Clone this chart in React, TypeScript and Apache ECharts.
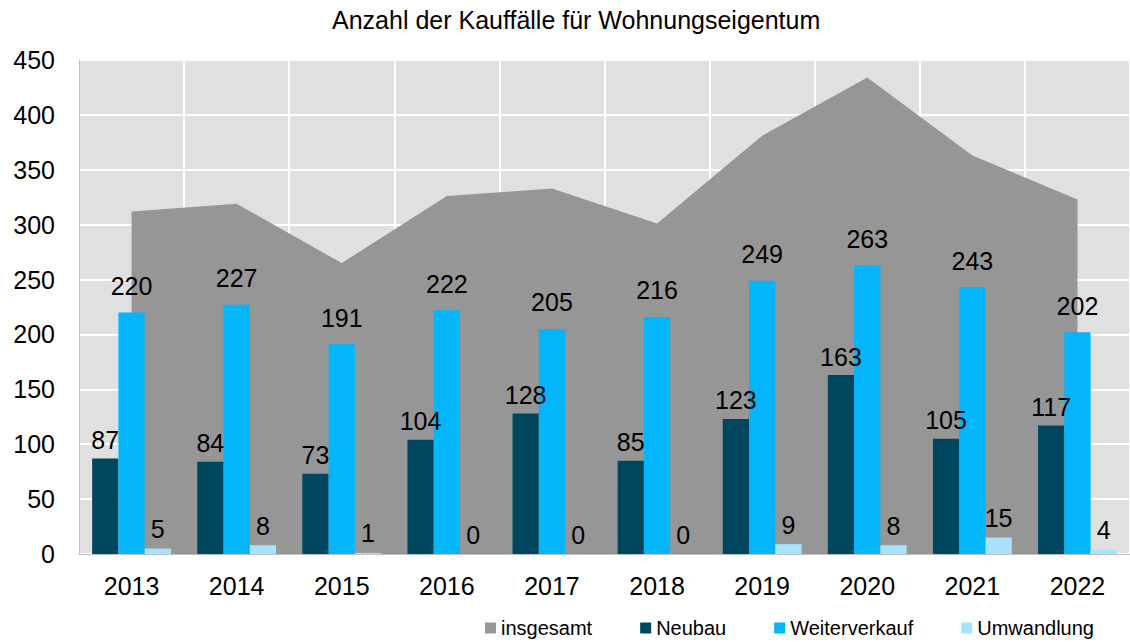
import React, { useEffect, useRef } from "react";
import * as echarts from "echarts";

const years = ["2013", "2014", "2015", "2016", "2017", "2018", "2019", "2020", "2021", "2022"];
const insgesamt = [312, 319, 265, 326, 333, 301, 381, 434, 363, 323];
const neubau = [87, 84, 73, 104, 128, 85, 123, 163, 105, 117];
const weiterverkauf = [220, 227, 191, 222, 205, 216, 249, 263, 243, 202];
const umwandlung = [5, 8, 1, 0, 0, 0, 9, 8, 15, 4];

const FONT = "'Liberation Sans', Arial, sans-serif";

export default function App() {
  const ref = useRef<HTMLDivElement>(null);
  useEffect(() => {
    if (!ref.current) return;
    const chart = echarts.init(ref.current, null, { renderer: "svg" });
    const barLabel = (distance: number) => ({
      show: true,
      position: "top" as const,
      distance,
      fontSize: 25,
      color: "#000",
      fontFamily: FONT,
    });
    chart.setOption({
      animation: false,
      textStyle: { fontFamily: FONT },
      title: {
        text: "Anzahl der Kauffälle für Wohnungseigentum",
        left: 332,
        top: 7,
        padding: 0,
        textStyle: { fontSize: 25, fontWeight: "normal", color: "#000", fontFamily: FONT },
      },
      legend: {
        left: 485,
        top: 618,
        padding: 0,
        icon: "rect",
        itemWidth: 11,
        itemHeight: 11,
        itemGap: 48,
        textStyle: { fontSize: 20, color: "#000", fontFamily: FONT },
        data: ["insgesamt", "Neubau", "Weiterverkauf", "Umwandlung"],
      },
      grid: {
        left: 79,
        top: 60,
        width: 1053,
        height: 494,
        show: true,
        backgroundColor: "#e0e0e0",
        borderColor: "#c0c0c0",
        borderWidth: 1,
      },
      xAxis: {
        type: "category",
        data: years,
        boundaryGap: true,
        axisLine: { show: true, lineStyle: { color: "#c0c0c0", width: 1 } },
        axisTick: { show: false },
        splitLine: { show: true, lineStyle: { color: "#ffffff", width: 2 } },
        axisLabel: { fontSize: 25, color: "#000", margin: 19, fontFamily: FONT },
      },
      yAxis: {
        type: "value",
        min: 0,
        max: 450,
        interval: 50,
        axisLine: { show: true, lineStyle: { color: "#c0c0c0", width: 1 } },
        axisTick: { show: false },
        splitLine: { show: true, lineStyle: { color: "#ffffff", width: 2 } },
        axisLabel: { fontSize: 25, color: "#000", margin: 24, fontFamily: FONT },
      },
      series: [
        {
          name: "insgesamt",
          type: "line",
          data: insgesamt,
          symbol: "none",
          lineStyle: { width: 0, color: "#969696" },
          itemStyle: { color: "#969696" },
          areaStyle: { color: "#969696", opacity: 1 },
          z: 1,
        },
        {
          name: "Neubau",
          type: "bar",
          data: neubau,
          barWidth: "25%",
          barGap: "0%",
          itemStyle: { color: "#00465F" },
          label: barLabel(6),
          z: 3,
        },
        {
          name: "Weiterverkauf",
          type: "bar",
          data: weiterverkauf,
          barWidth: "25%",
          barGap: "0%",
          itemStyle: { color: "#05B5FA" },
          label: barLabel(14),
          z: 3,
        },
        {
          name: "Umwandlung",
          type: "bar",
          data: umwandlung,
          barWidth: "25%",
          barGap: "0%",
          itemStyle: { color: "#A7E4FB" },
          label: barLabel(7),
          z: 3,
        },
      ],
    });
    return () => chart.dispose();
  }, []);
  return (
    <div
      ref={ref}
      style={{ position: "fixed", left: 0, top: 0, width: 1130, height: 642, background: "#fff" }}
    />
  );
}
